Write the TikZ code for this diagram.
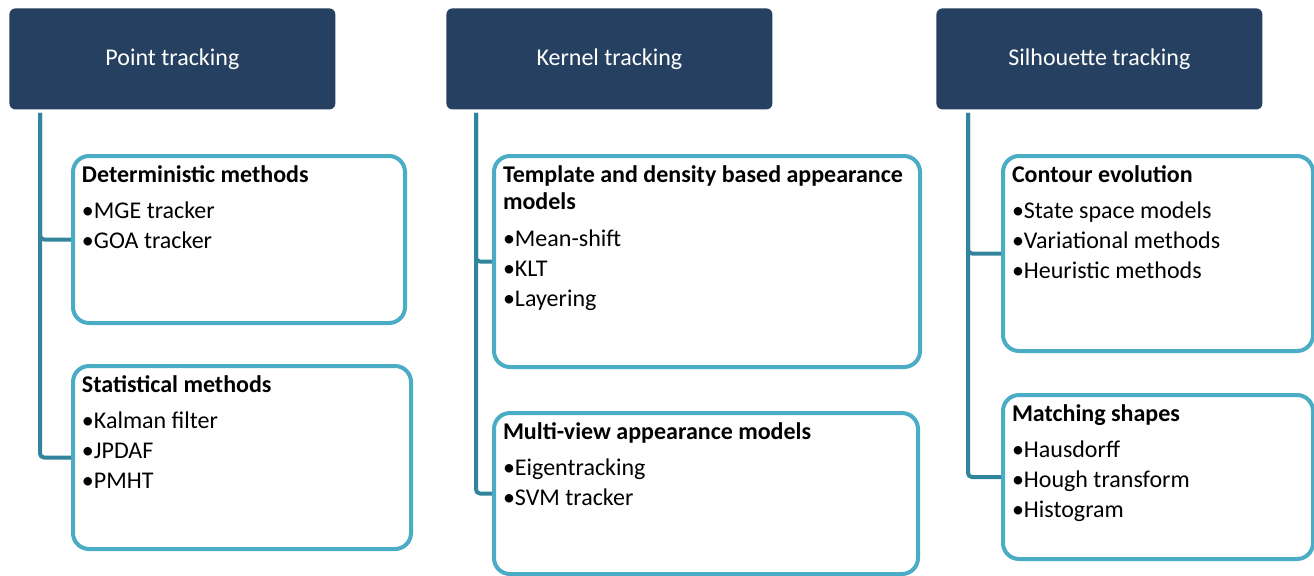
\documentclass[tikz,border=0pt]{standalone}
\usepackage{fontspec}
\setmainfont{Carlito}
\definecolor{navy}{HTML}{264061}
\definecolor{boxline}{HTML}{4BACC6}
\definecolor{trunk}{HTML}{31849B}
\tikzset{
  head/.style={fill=navy, text=white, rounded corners=3pt, anchor=north west,
    minimum width=163pt, minimum height=50.5pt, font=\fontsize{12}{14}\selectfont},
  subbox/.style={draw=boxline, line width=2pt, rounded corners=8pt, fill=white,
    anchor=north west, inner xsep=4.5pt, inner ysep=5pt},
  link/.style={draw=trunk, line width=2pt, rounded corners=2pt}
}
% width, height, text
\newcommand{\boxtext}[3]{\parbox[t][#2][t]{#1}{\raggedright\fontsize{12}{15}\selectfont #3}}
\begin{document}
\begin{tikzpicture}[x=0.5pt, y=-0.5pt, line join=round]
  \useasboundingbox (0,0) rectangle (1314,575);
  % headers
  \node[head] (point) at (9,8) {Point tracking};
  \node[head] (kernel) at (446,8) {Kernel tracking};
  \node[head] (silh) at (936,8) {Silhouette tracking};
  % point tracking
  \node[subbox] (determ) at (71,154) {\boxtext{157pt}{73.5pt}{\textbf{Deterministic methods}\\[3pt]
    •MGE tracker\\•GOA tracker}};
  \node[subbox] (stat) at (71,364) {\boxtext{160pt}{81.5pt}{\textbf{Statistical methods}\\[3pt]
    •Kalman filter\\•JPDAF\\•PMHT}};
  % kernel tracking
  \node[subbox] (templ) at (492,154) {\boxtext{204pt}{95.5pt}{\mbox{\textbf{Template and density based appearance}}\\[-1.5pt]
    \textbf{models}\\[3.5pt]•Mean-shift\\•KLT\\•Layering}};
  \node[subbox] (multi) at (492,411) {\boxtext{203pt}{70.5pt}{\textbf{Multi-view appearance models}\\[3pt]
    •Eigentracking\\•SVM tracker}};
  % silhouette tracking
  \node[subbox] (contour) at (1001,154) {\boxtext{146pt}{87.5pt}{\textbf{Contour evolution}\\[3pt]
    •State space models\\•Variational methods\\•Heuristic methods}};
  \node[subbox] (match) at (1001,393) {\boxtext{146pt}{72pt}{\textbf{Matching shapes}\\[3pt]
    •Hausdorff\\•Hough transform\\•Histogram}};
  % trunks
  \coordinate (tp) at ([xshift=15.5pt,yshift=-1.5pt]point.south west);
  \coordinate (tk) at ([xshift=15pt,yshift=-1.5pt]kernel.south west);
  \coordinate (ts) at ([xshift=16pt,yshift=-1.5pt]silh.south west);
  \draw[link] (tp) |- (determ.west);
  \draw[link] (tp) |- (stat.west);
  \draw[link] (tk) |- (templ.west);
  \draw[link] (tk) |- (multi.west);
  \draw[link] (ts) |- (contour.west);
  \draw[link] (ts) |- (match.west);
\end{tikzpicture}
\end{document}
